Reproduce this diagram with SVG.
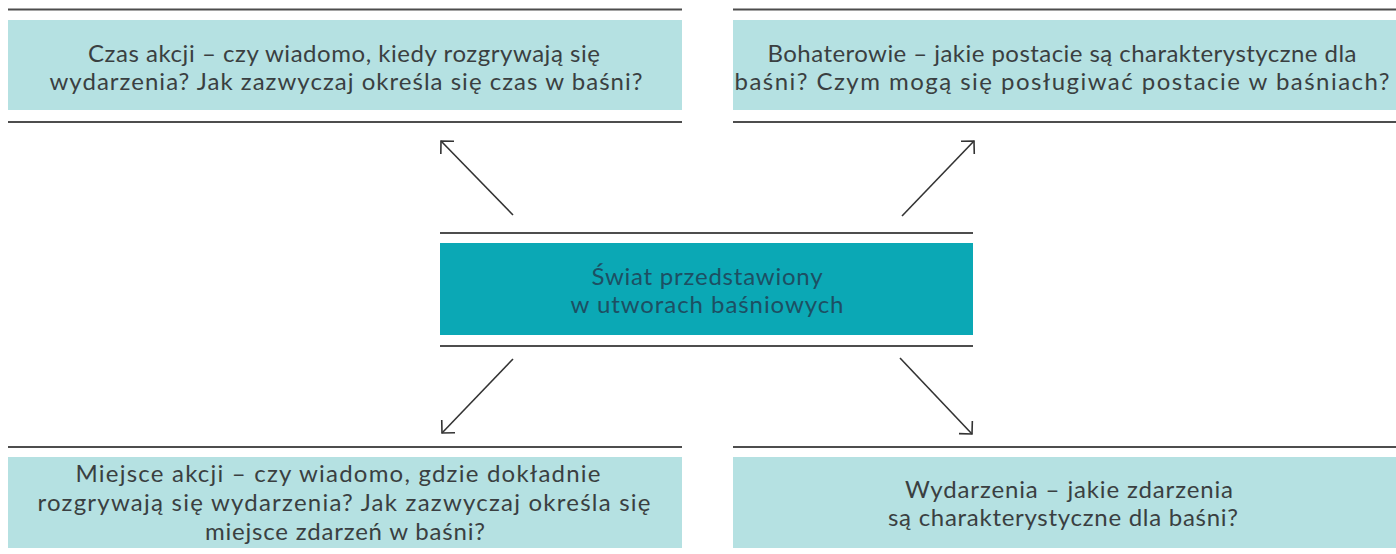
<svg xmlns="http://www.w3.org/2000/svg" width="1396" height="554" viewBox="0 0 1396 554">
<defs>
<style>
.rule{stroke:#4d4d4d;stroke-width:2;fill:none}
.light{fill:#b5e1e2}
.dark{fill:#0ba8b5}
.t{font-family:Lato,"Liberation Sans",sans-serif;font-size:24px;fill:#3a3f41;text-anchor:middle}
.tc{font-family:Lato,"Liberation Sans",sans-serif;font-size:24px;fill:#1d4f63;text-anchor:middle}
.arr{stroke:#333;stroke-width:1.6;fill:none;marker-end:url(#head)}
</style>
<marker id="head" markerUnits="userSpaceOnUse" viewBox="-12 -12 14 24" refX="0" refY="0" markerWidth="14" markerHeight="24" orient="auto" overflow="visible">
<path d="M-9.2,-9.2 L0,0 L-9.2,9.2" stroke="#333" stroke-width="1.6" fill="none"/>
</marker>
</defs>
<rect width="1396" height="554" fill="#ffffff"/>
<g id="czas">
<line class="rule" x1="8" y1="9.5" x2="682" y2="9.5"/>
<rect class="light" x="8" y="20" width="674" height="90"/>
<line class="rule" x1="8" y1="122" x2="682" y2="122"/>
<text class="t" x="344" y="62" textLength="512" lengthAdjust="spacing">Czas akcji – czy wiadomo, kiedy rozgrywają się</text>
<text class="t" x="346" y="90" textLength="593" lengthAdjust="spacing">wydarzenia? Jak zazwyczaj określa się czas w baśni?</text>
</g>
<g id="bohaterowie">
<line class="rule" x1="733" y1="9.5" x2="1396" y2="9.5"/>
<rect class="light" x="733" y="20" width="663" height="90"/>
<line class="rule" x1="733" y1="122" x2="1396" y2="122"/>
<text class="t" x="1062" y="62" textLength="589" lengthAdjust="spacing">Bohaterowie – jakie postacie są charakterystyczne dla</text>
<text class="t" x="1062" y="90" textLength="655" lengthAdjust="spacing">baśni? Czym mogą się posługiwać postacie w baśniach?</text>
</g>
<g id="swiat">
<line class="rule" x1="440" y1="233" x2="973" y2="233"/>
<rect class="dark" x="440" y="243" width="533" height="92"/>
<line class="rule" x1="440" y1="346" x2="973" y2="346"/>
<text class="tc" x="707" y="285" textLength="231" lengthAdjust="spacing">Świat przedstawiony</text>
<text class="tc" x="707" y="313" textLength="273" lengthAdjust="spacing">w utworach baśniowych</text>
</g>
<g id="miejsce">
<line class="rule" x1="8" y1="447" x2="682" y2="447"/>
<rect class="light" x="8" y="457" width="674" height="91"/>
<text class="t" x="338" y="482" textLength="525" lengthAdjust="spacing">Miejsce akcji – czy wiadomo, gdzie dokładnie</text>
<text class="t" x="344" y="511" textLength="613" lengthAdjust="spacing">rozgrywają się wydarzenia? Jak zazwyczaj określa się</text>
<text class="t" x="345" y="540" textLength="280" lengthAdjust="spacing">miejsce zdarzeń w baśni?</text>
</g>
<g id="wydarzenia">
<line class="rule" x1="733" y1="447" x2="1396" y2="447"/>
<rect class="light" x="733" y="457" width="663" height="91"/>
<text class="t" x="1069" y="498" textLength="328" lengthAdjust="spacing">Wydarzenia – jakie zdarzenia</text>
<text class="t" x="1063" y="526" textLength="350" lengthAdjust="spacing">są charakterystyczne dla baśni?</text>
</g>
<g id="connectors">
<line class="arr" x1="513" y1="215" x2="441" y2="141"/>
<line class="arr" x1="902" y1="216" x2="974" y2="141"/>
<line class="arr" x1="513" y1="359" x2="442" y2="433"/>
<line class="arr" x1="900" y1="358" x2="972" y2="434"/>
</g>
</svg>
